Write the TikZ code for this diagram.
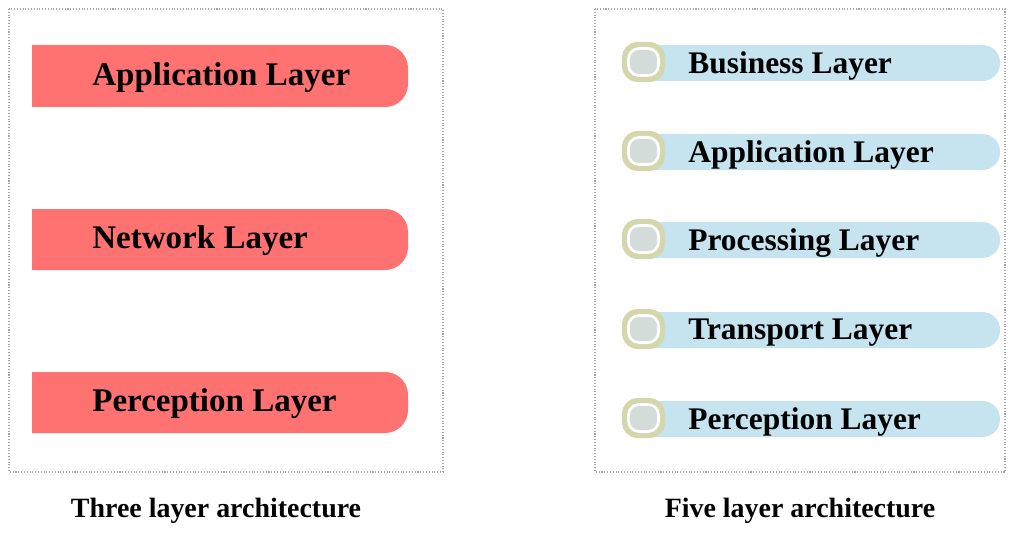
\documentclass[tikz,border=0pt]{standalone}
\usepackage{fontspec}
\setmainfont{Liberation Serif}

\tikzset{
  frame/.style={draw=gray!70, densely dotted, line width=0.6pt},
  redbar/.style={fill=barred, rounded corners=13},
  bluebar/.style={fill=barblue, rounded corners=10},
  bigtext/.style={anchor=west, inner sep=0pt, font=\fontsize{18.8}{20}\selectfont\bfseries},
  smalltext/.style={anchor=west, inner sep=0pt, font=\fontsize{17.9}{19}\selectfont\bfseries},
  caption/.style={inner sep=0pt, font=\fontsize{15.9}{17}\selectfont\bfseries},
}

\begin{document}
\begin{tikzpicture}[x=0.02cm, y=-0.02cm]
  \definecolor{barred}{RGB}{255,114,114}
  \definecolor{barblue}{RGB}{197,228,240}
  \definecolor{iconolive}{RGB}{212,214,172}
  \definecolor{icongray}{RGB}{212,220,218}
  \useasboundingbox (0,0) rectangle (1018,537);

  % three layers
  \draw [frame] (9,9) rectangle (443,472);
  \fill [redbar] (32,45) -- (408,45) -- (408,107) [sharp corners] -- (32,107) -- cycle;
  \node [bigtext] (app3) at (92,78) {Application Layer};
  \fill [redbar] (32,209) -- (408,209) -- (408,270) [sharp corners] -- (32,270) -- cycle;
  \node [bigtext] (net3) at (92,241) {Network Layer};
  \fill [redbar] (32,372) -- (408,372) -- (408,433) [sharp corners] -- (32,433) -- cycle;
  \node [bigtext] (per3) at (92,404) {Perception Layer};
  \node [caption] (cap3) at (216,511) {Three layer architecture};

  % five layers
  \draw [frame] (595,9) rectangle (1005,472);
  \fill [bluebar] (650,45) -- (1000,45) -- (1000,81) [sharp corners] -- (650,81) -- cycle;
  \fill [iconolive, rounded corners=9] (622,42) rectangle (665,82);
  \fill [white, rounded corners=7] (627,47) rectangle (660,77);
  \fill [icongray, rounded corners=5] (630,50) rectangle (657,74);
  \node [smalltext] (bus5) at (688,66) {Business Layer};

  \fill [bluebar] (650,134) -- (1000,134) -- (1000,170) [sharp corners] -- (650,170) -- cycle;
  \fill [iconolive, rounded corners=9] (622,131) rectangle (665,171);
  \fill [white, rounded corners=7] (627,136) rectangle (660,166);
  \fill [icongray, rounded corners=5] (630,139) rectangle (657,163);
  \node [smalltext] (app5) at (688,155) {Application Layer};

  \fill [bluebar] (650,222) -- (1000,222) -- (1000,258) [sharp corners] -- (650,258) -- cycle;
  \fill [iconolive, rounded corners=9] (622,219) rectangle (665,259);
  \fill [white, rounded corners=7] (627,224) rectangle (660,254);
  \fill [icongray, rounded corners=5] (630,227) rectangle (657,251);
  \node [smalltext] (pro5) at (688,243) {Processing Layer};

  \fill [bluebar] (650,312) -- (1000,312) -- (1000,348) [sharp corners] -- (650,348) -- cycle;
  \fill [iconolive, rounded corners=9] (622,309) rectangle (665,349);
  \fill [white, rounded corners=7] (627,314) rectangle (660,344);
  \fill [icongray, rounded corners=5] (630,317) rectangle (657,341);
  \node [smalltext] (tra5) at (688,333) {Transport Layer};

  \fill [bluebar] (650,401) -- (1000,401) -- (1000,437) [sharp corners] -- (650,437) -- cycle;
  \fill [iconolive, rounded corners=9] (622,398) rectangle (665,438);
  \fill [white, rounded corners=7] (627,403) rectangle (660,433);
  \fill [icongray, rounded corners=5] (630,406) rectangle (657,430);
  \node [smalltext] (per5) at (688,422) {Perception Layer};
  \node [caption] (cap5) at (800,511) {Five layer architecture};
\end{tikzpicture}
\end{document}
